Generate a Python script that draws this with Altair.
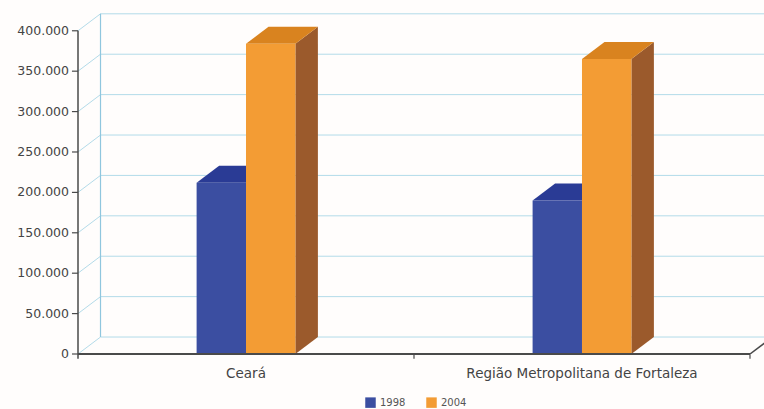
import altair as alt
import pandas as pd

# Population figures (people) by area and year
categories = ["Ceará", "Região Metropolitana de Fortaleza"]
years = ["1998", "2004"]
values_1998 = [212000, 190000]
values_2004 = [384000, 365000]
y_ticks = [0, 50000, 100000, 150000, 200000, 250000, 300000, 350000, 400000]
y_tick_labels = ["0", "50.000", "100.000", "150.000", "200.000",
                 "250.000", "300.000", "350.000", "400.000"]

# Colours: front face, top face, side face
front_colors = {"1998": "#3b4ea1", "2004": "#f39c34"}
top_colors = {"1998": "#2a3b95", "2004": "#d9831f"}
side_colors = {"1998": "#22306f", "2004": "#9b5a2c"}

# Pseudo-3D geometry in data units
BAR_W = 0.147      # width of one column (category band = 1 unit)
DEPTH_X = 0.067    # horizontal shift of the back plane
DEPTH_Y = 21000    # vertical shift of the back plane
TICK_X = 0.018     # length of the value-axis ticks
X_MAX = 2.0417
Y_MAX = 422000

series = {"1998": values_1998, "2004": values_2004}

front_rows, side_rows, top_rows = [], [], []
for ci, cat in enumerate(categories):
    center = ci + 0.5
    for yi, yr in enumerate(years):
        v = series[yr][ci]
        x0 = center - BAR_W if yi == 0 else center
        x1 = x0 + BAR_W
        bid = f"{ci}-{yr}"
        front_rows.append({"cat": cat, "year": yr, "x0": x0, "x1": x1, "v": v, "zero": 0})
        side_rows += [
            {"bid": bid, "x": x1, "lo": 0, "hi": v, "fill": side_colors[yr]},
            {"bid": bid, "x": x1 + DEPTH_X, "lo": DEPTH_Y, "hi": v + DEPTH_Y,
             "fill": side_colors[yr]},
        ]
        top_rows += [
            {"bid": bid, "y": v, "xa": x0, "xb": x1, "fill": top_colors[yr]},
            {"bid": bid, "y": v + DEPTH_Y, "xa": x0 + DEPTH_X, "xb": x1 + DEPTH_X,
             "fill": top_colors[yr]},
        ]

front_df = pd.DataFrame(front_rows)
side_df = pd.DataFrame(side_rows)
top_df = pd.DataFrame(top_rows)

ticks_df = pd.DataFrame({"t": y_ticks, "label": y_tick_labels})
ticks_df["tb"] = ticks_df["t"] + DEPTH_Y
ticks_df["xa"] = DEPTH_X
ticks_df["xb"] = 2 + DEPTH_X
ticks_df["x0"] = 0.0
ticks_df["xt"] = -TICK_X

cat_df = pd.DataFrame({"cat": categories, "x": [0.5, 1.5], "y": [0, 0]})

xs = alt.Scale(domain=[0, X_MAX], nice=False, zero=False)
ys = alt.Scale(domain=[0, Y_MAX], nice=False, zero=False)
GRID = "#b3dbe9"
AXIS = "#4a4a4a"
TEXT = "#444444"
FONT = "DejaVu Sans"

base = alt.Chart(ticks_df)

# Back wall horizontal grid lines
back_grid = base.mark_rule(color=GRID, strokeWidth=1, clip=True).encode(
    x=alt.X("xa:Q", scale=xs, axis=None), x2="xb:Q",
    y=alt.Y("tb:Q", scale=ys, axis=None),
)
# Side wall diagonals
side_grid = base.mark_rule(color=GRID, strokeWidth=1).encode(
    x=alt.X("x0:Q", scale=xs, axis=None), x2="xa:Q",
    y=alt.Y("t:Q", scale=ys, axis=None), y2="tb:Q",
)
edge_df = pd.DataFrame({"x": [DEPTH_X], "y0": [DEPTH_Y], "y1": [y_ticks[-1] + DEPTH_Y]})
back_edge = alt.Chart(edge_df).mark_rule(color="#8fc6de", strokeWidth=1.2).encode(
    x=alt.X("x:Q", scale=xs, axis=None),
    y=alt.Y("y0:Q", scale=ys, axis=None), y2="y1:Q",
)

sides = alt.Chart(side_df).mark_area(orient="vertical").encode(
    x=alt.X("x:Q", scale=xs, axis=None),
    y=alt.Y("hi:Q", scale=ys, axis=None), y2="lo:Q",
    fill=alt.Fill("fill:N", scale=None),
    detail="bid:N",
)
tops = alt.Chart(top_df).mark_area(orient="horizontal").encode(
    y=alt.Y("y:Q", scale=ys, axis=None),
    x=alt.X("xa:Q", scale=xs, axis=None), x2="xb:Q",
    fill=alt.Fill("fill:N", scale=None),
    detail="bid:N",
)

fronts = alt.Chart(front_df).mark_bar(stroke=None).encode(
    x=alt.X("x0:Q", scale=xs, axis=None), x2="x1:Q",
    y=alt.Y("v:Q", scale=ys, axis=None), y2="zero:Q",
    color=alt.Color("year:N",
                    scale=alt.Scale(domain=years, range=[front_colors[y] for y in years]),
                    legend=alt.Legend(title=None, orient="none", direction="horizontal",
                                      legendX=287, legendY=384, symbolType="square",
                                      symbolSize=110, symbolStrokeWidth=0,
                                      labelFontSize=10, labelFont=FONT,
                                      labelColor="#555555", columnPadding=20,
                                      labelOffset=4)),
)

# Value axis: line, ticks and labels
yaxis_df = pd.DataFrame({"x": [0.0], "y0": [-6000], "y1": [y_ticks[-1]]})
y_line = alt.Chart(yaxis_df).mark_rule(color=AXIS, strokeWidth=1.5).encode(
    x=alt.X("x:Q", scale=xs, axis=None),
    y=alt.Y("y0:Q", scale=ys, axis=None), y2="y1:Q",
)
y_tick_marks = base.mark_rule(color=AXIS, strokeWidth=1.2).encode(
    x=alt.X("xt:Q", scale=xs, axis=None), x2="x0:Q",
    y=alt.Y("t:Q", scale=ys, axis=None),
)
y_labels = base.mark_text(align="right", baseline="middle", dx=-9,
                          font=FONT, fontSize=12.5, color=TEXT).encode(
    x=alt.X("x0:Q", scale=xs, axis=None),
    y=alt.Y("t:Q", scale=ys, axis=None),
    text="label:N",
)

# Category axis: line, separators and labels
xaxis_df = pd.DataFrame({"x0": [0.0], "x1": [2.0], "y": [0]})
x_line = alt.Chart(xaxis_df).mark_rule(color=AXIS, strokeWidth=2).encode(
    x=alt.X("x0:Q", scale=xs, axis=None), x2="x1:Q",
    y=alt.Y("y:Q", scale=ys, axis=None),
)
floor_df = pd.DataFrame({"x0": [2.0], "x1": [2 + DEPTH_X], "y0": [0], "y1": [DEPTH_Y]})
floor_edge = alt.Chart(floor_df).mark_rule(color=AXIS, strokeWidth=1.5, clip=True).encode(
    x=alt.X("x0:Q", scale=xs, axis=None), x2="x1:Q",
    y=alt.Y("y0:Q", scale=ys, axis=None), y2="y1:Q",
)
sep_df = pd.DataFrame({"x": [1.0, 2.0], "y0": [0, 0], "y1": [-6000, -6000]})
separators = alt.Chart(sep_df).mark_rule(color=AXIS, strokeWidth=1.2).encode(
    x=alt.X("x:Q", scale=xs, axis=None),
    y=alt.Y("y0:Q", scale=ys, axis=None), y2="y1:Q",
)
cat_labels = alt.Chart(cat_df).mark_text(align="center", baseline="middle", dy=20,
                                         font=FONT, fontSize=13.5, color=TEXT).encode(
    x=alt.X("x:Q", scale=xs, axis=None),
    y=alt.Y("y:Q", scale=ys, axis=None),
    text="cat:N",
)

chart = alt.layer(
    back_grid, side_grid, back_edge, sides, tops, fronts,
    x_line, floor_edge, separators, y_line, y_tick_marks, y_labels, cat_labels,
).properties(
    width=686, height=341,
    padding={"left": 78, "top": 13, "right": 0, "bottom": 55},
    autosize=alt.AutoSizeParams(type="none"),
    background="#fffdfc",
).configure_view(stroke=None)

chart.save("out.html", embed_options={"renderer": "svg", "actions": False})
